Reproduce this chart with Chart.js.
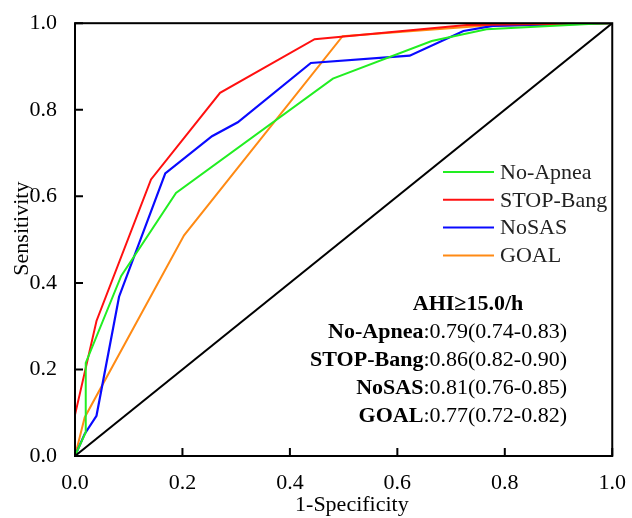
<!DOCTYPE html>
<html>
<head>
<meta charset="utf-8">
<script src="https://cdn.jsdelivr.net/npm/chart.js@4/dist/chart.umd.min.js"></script>
<style>
    html, body { margin: 0; padding: 0; background: #fff; }
    #wrap { width: 632px; height: 518px; }
</style>
</head>
<body>
<div id="wrap"><canvas id="rocChart" width="632" height="518"></canvas></div>
<script>
// ROC points (x = 1-specificity, y = sensitivity)
const noApneaX = [0, 0.020, 0.020, 0.086, 0.188, 0.480, 0.664, 0.766, 0.956, 1];
const noApneaY = [0, 0.055, 0.215, 0.416, 0.608, 0.872, 0.959, 0.986, 0.998, 1];

const stopBangX = [0, 0, 0.040, 0.1415, 0.270, 0.446, 0.729, 1];
const stopBangY = [0, 0.095, 0.312, 0.639, 0.839, 0.963, 0.996, 1];

const noSasX = [0, 0.018, 0.040, 0.082, 0.168, 0.255, 0.303, 0.439, 0.623, 0.723, 0.778, 1];
const noSasY = [0, 0.051, 0.093, 0.368, 0.653, 0.739, 0.771, 0.908, 0.925, 0.982, 0.994, 1];

const goalX = [0, 0.018, 0.203, 0.498, 0.760, 1];
const goalY = [0, 0.089, 0.510, 0.970, 0.994, 1];

const refX = [0, 1];
const refY = [0, 1];

const seriesNames = ["No-Apnea", "STOP-Bang", "NoSAS", "GOAL"];
const seriesColors = ["#22ee22", "#ff1010", "#0a0aff", "#ff8a14"];

const aucTitle = "AHI\u226515.0/h";
const aucNames = ["No-Apnea", "STOP-Bang", "NoSAS", "GOAL"];
const aucValues = [":0.79(0.74-0.83)", ":0.86(0.82-0.90)", ":0.81(0.76-0.85)", ":0.77(0.72-0.82)"];

const tickValues = [0, 0.2, 0.4, 0.6, 0.8, 1.0];

const FONT = '"Liberation Serif", "Times New Roman", serif';

function toPoints(xs, ys) {
    return xs.map((x, i) => ({x: x, y: ys[i]}));
}

function lineSet(label, xs, ys, color, width) {
    return {
        label: label,
        data: toPoints(xs, ys),
        borderColor: color,
        backgroundColor: color,
        borderWidth: width,
        pointRadius: 0,
        showLine: true,
        tension: 0
    };
}

// frame, inward ticks, legend box and AUC text
const decorPlugin = {
    id: 'decor',
    afterDatasetsDraw(chart) {
        const ctx = chart.ctx;
        const a = chart.chartArea;
        const xs = chart.scales.x;
        const ys = chart.scales.y;
        ctx.save();
        ctx.strokeStyle = "#000";
        ctx.lineWidth = 2;
        ctx.strokeRect(a.left, a.top, a.right - a.left, a.bottom - a.top);

        ctx.beginPath();
        tickValues.forEach(v => {
            let px = xs.getPixelForValue(v);
            ctx.moveTo(px, a.bottom);
            ctx.lineTo(px, a.bottom - 8);
            let py = ys.getPixelForValue(v);
            ctx.moveTo(a.left, py);
            ctx.lineTo(a.left + 8, py);
        });
        ctx.stroke();

        // legend
        ctx.font = '22px ' + FONT;
        ctx.textBaseline = 'middle';
        ctx.textAlign = 'left';
        seriesNames.forEach((name, i) => {
            let y = 172 + i * 27.8;
            ctx.strokeStyle = seriesColors[i];
            ctx.lineWidth = 2;
            ctx.beginPath();
            ctx.moveTo(443, y);
            ctx.lineTo(494, y);
            ctx.stroke();
            ctx.fillStyle = "#222";
            ctx.fillText(name, 500, y + 1);
        });

        // AUC block
        ctx.fillStyle = "#000";
        ctx.textAlign = 'center';
        ctx.font = 'bold 22px ' + FONT;
        ctx.fillText(aucTitle, 468, 304);
        const right = 567;
        aucNames.forEach((name, i) => {
            let y = 332 + i * 28;
            ctx.font = '22px ' + FONT;
            let w = ctx.measureText(aucValues[i]).width;
            ctx.textAlign = 'right';
            ctx.fillText(aucValues[i], right, y);
            ctx.font = 'bold 22px ' + FONT;
            ctx.fillText(name, right - w, y);
        });
        ctx.restore();
    }
};

const ctx = document.getElementById('rocChart');
const rocChart = new Chart(ctx, {
    type: 'scatter',
    data: {
        datasets: [
            lineSet("ref", refX, refY, "#000", 2),
            lineSet(seriesNames[0], noApneaX, noApneaY, seriesColors[0], 2),
            lineSet(seriesNames[1], stopBangX, stopBangY, seriesColors[1], 2),
            lineSet(seriesNames[2], noSasX, noSasY, seriesColors[2], 2.2),
            lineSet(seriesNames[3], goalX, goalY, seriesColors[3], 2)
        ]
    },
    options: {
        responsive: false,
        animation: false,
        layout: {padding: {left: 0, right: 15, top: 19, bottom: 0}},
        plugins: {
            legend: {display: false},
            tooltip: {enabled: false}
        },
        scales: {
            x: {
                type: 'linear',
                min: 0,
                max: 1,
                afterFit: s => { s.height = 62; },
                afterBuildTicks: s => { s.ticks = tickValues.map(v => ({value: v})); },
                grid: {display: false},
                border: {display: false},
                ticks: {
                    padding: 6,
                    color: "#000",
                    font: {family: FONT, size: 22},
                    maxRotation: 0,
                    callback: v => v.toFixed(1)
                },
                title: {
                    display: true,
                    // leading spaces nudge it a little right, like the original
                    text: "   1-Specificity",
                    color: "#000",
                    padding: {top: 0, bottom: 0},
                    font: {family: FONT, size: 22}
                }
            },
            y: {
                type: 'linear',
                min: 0,
                max: 1,
                afterFit: s => { s.width = 75; },
                afterBuildTicks: s => { s.ticks = tickValues.map(v => ({value: v})); },
                grid: {display: false},
                border: {display: false},
                ticks: {
                    padding: 10,
                    color: "#000",
                    font: {family: FONT, size: 22},
                    callback: v => v.toFixed(1)
                },
                title: {
                    display: true,
                    text: "    Sensitivity",
                    color: "#000",
                    padding: {top: 9, bottom: 0},
                    font: {family: FONT, size: 22}
                }
            }
        }
    },
    plugins: [decorPlugin]
});
</script>
</body>
</html>
